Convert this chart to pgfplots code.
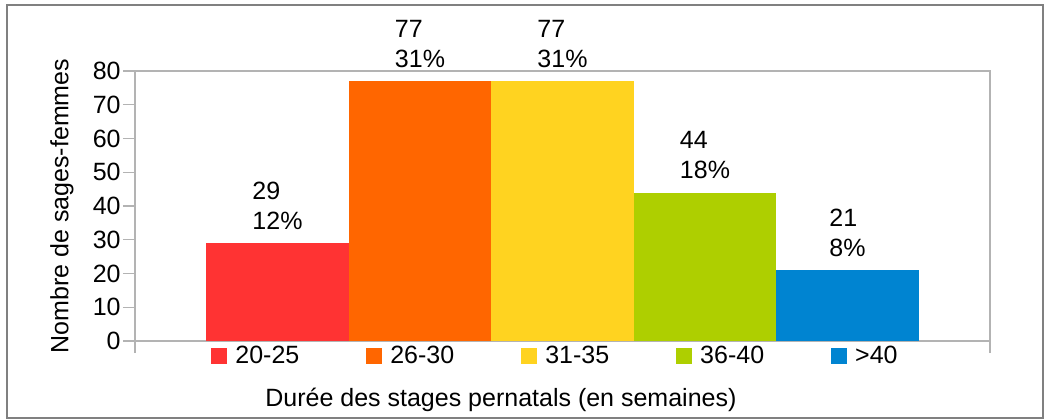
\documentclass[border=0pt]{standalone}
\usepackage{fontspec}
\setmainfont{Liberation Sans}
\usepackage{pgfplots}
\pgfplotsset{compat=1.18}
\definecolor{c1}{HTML}{FF3333}
\definecolor{c2}{HTML}{FF6600}
\definecolor{c3}{HTML}{FFD320}
\definecolor{c4}{HTML}{AECF00}
\definecolor{c5}{HTML}{0084D1}
\definecolor{axisgray}{HTML}{B3B3B3}
\definecolor{framegray}{HTML}{808080}
\newcommand\lab{\fontsize{12.5}{15}\selectfont}
\pgfplotsset{mybar/.style={fill=#1, draw=none, bar shift=0pt,
  legend image code/.code={\fill[fill=#1, draw=none] (0pt,-4pt) rectangle (8pt,4pt);}}}
\begin{document}
\begin{tikzpicture}
\useasboundingbox (0,0) rectangle (522pt,209.5pt);
\draw[color=framegray, line width=1pt] (3.5pt,0.5pt) rectangle (521.5pt,207pt);
\begin{axis}[
  at={(67.5pt,39pt)}, anchor=south west,
  scale only axis, width=427.5pt, height=135pt,
  xmin=0, xmax=6, ymin=0, ymax=80,
  xtick={0,6}, xticklabel=\empty, ytick={0,10,...,80},
  tick align=outside, xtick pos=bottom, ytick pos=left,
  major tick length=6pt,
  axis line style={axisgray, line width=0.6pt},
  tick style={axisgray, line width=0.6pt},
  tick label style={font=\lab},
  yticklabel style={inner sep=0pt, xshift=-1pt},
  /pgf/number format/assume math mode=true,
  clip=false,
  ybar, bar width=1,
  point meta=explicit,
  visualization depends on={rawy \as \rawy},
  nodes near coords={\pgfmathprintnumber{\rawy}\\\pgfmathprintnumber{\pgfplotspointmeta}\%},
  every node near coord/.append style={anchor=south, align=left, inner sep=0pt, yshift=6.5pt, font=\lab, text=black},
  ylabel={Nombre de sages-femmes},
  ylabel style={at={(axis description cs:-0.0854,0.5)}, anchor=center, font=\lab},
  xlabel={Durée des stages pernatals (en semaines)},
  xlabel style={at={(axis description cs:0.428,-0.2185)}, anchor=center, font=\lab},
  legend columns=5,
  legend style={draw=none, fill=none, at={(axis description cs:0.0889,-0.0556)}, anchor=west,
    inner sep=0pt, font=\lab, nodes={inner sep=0pt},
    /tikz/every odd column/.append style={column sep=4pt},
    /tikz/every even column/.append style={column sep=33.5pt}},
]
\addplot[mybar=c1] coordinates {(1,29) [12]};
\addplot[mybar=c2] coordinates {(2,77) [31]};
\addplot[mybar=c3] coordinates {(3,77) [31]};
\addplot[mybar=c4] coordinates {(4,44) [18]};
\addplot[mybar=c5] coordinates {(5,21) [8]};
\legend{20-25,26-30,31-35,36-40,>40}
\end{axis}
\end{tikzpicture}
\end{document}
